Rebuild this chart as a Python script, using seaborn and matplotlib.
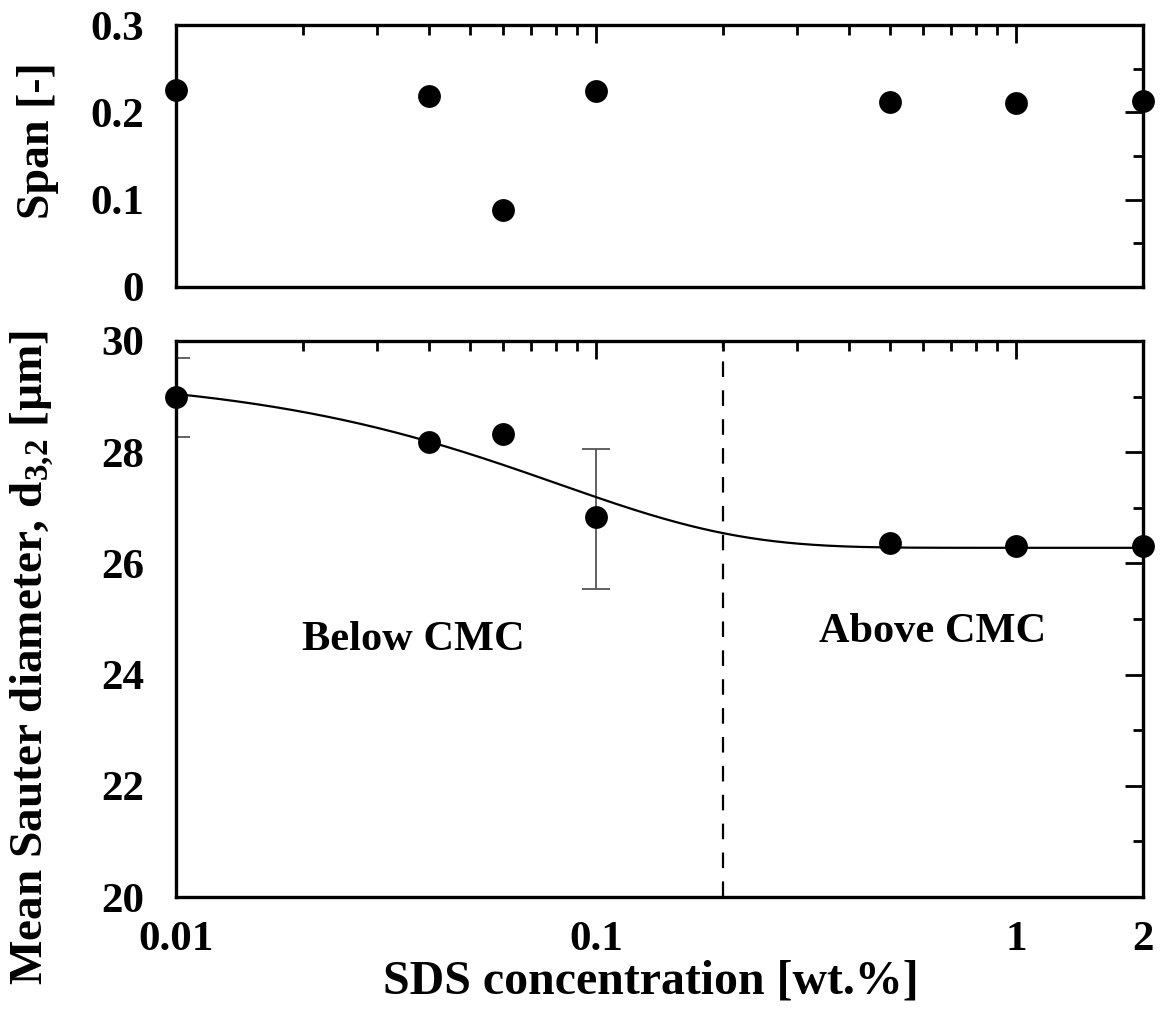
import numpy as np
import pandas as pd
import matplotlib
matplotlib.use("Agg")
import matplotlib.pyplot as plt
import seaborn as sns
from matplotlib.ticker import LogLocator, MultipleLocator, FixedLocator, FixedFormatter, NullFormatter, FuncFormatter

# ---- data ----
conc = [0.01, 0.04, 0.06, 0.1, 0.5, 1.0, 2.0]
span = [0.226, 0.219, 0.088, 0.224, 0.212, 0.211, 0.213]
d32 = [29.0, 28.18, 28.33, 26.83, 26.37, 26.32, 26.32]
err_x = [0.01, 0.1]
err_y = [28.98, 26.80]
err_val = [0.71, 1.26]
# exponential-decay fit parameters: d = base + amp * exp(-x / x0)
fit_base, fit_amp, fit_x0 = 26.28, 3.13, 0.081
cmc = 0.2
xtick_vals = [0.01, 0.1, 1, 2]
xtick_labels = ["0.01", "0.1", "1", "2"]

sns.set_theme(style="white")
plt.rcParams["font.family"] = ["Liberation Serif", "DejaVu Serif"]
plt.rcParams["font.weight"] = "bold"
plt.rcParams["text.color"] = "black"
plt.rcParams["axes.labelcolor"] = "black"
plt.rcParams["xtick.color"] = "black"
plt.rcParams["ytick.color"] = "black"
plt.rcParams["mathtext.fontset"] = "custom"
plt.rcParams["mathtext.rm"] = "Liberation Serif:bold"
plt.rcParams["mathtext.it"] = "Liberation Serif:bold"
plt.rcParams["mathtext.bf"] = "Liberation Serif:bold"

fig = plt.figure(figsize=(11.61, 10.13), dpi=100)
ax1 = fig.add_axes([0.1516, 0.7167, 0.8329, 0.2586])
ax2 = fig.add_axes([0.1516, 0.1145, 0.8329, 0.5489])

df = pd.DataFrame({"conc": conc, "span": span, "d32": d32})
xf = np.logspace(np.log10(0.01), np.log10(2), 400)
fit_df = pd.DataFrame({"x": xf, "y": fit_base + fit_amp * np.exp(-xf / fit_x0)})

ms = 270
# top panel
sns.scatterplot(data=df, x="conc", y="span", ax=ax1, color="black", s=ms,
                edgecolor="black", linewidth=0, clip_on=False, zorder=5, legend=False)
# bottom panel
sns.lineplot(data=fit_df, x="x", y="y", ax=ax2, color="black", linewidth=1.6, zorder=3)
ax2.errorbar(err_x, err_y, yerr=err_val, fmt="none", ecolor="#555555",
             elinewidth=1.3, capsize=10, capthick=1.3, zorder=2)
sns.scatterplot(data=df, x="conc", y="d32", ax=ax2, color="black", s=ms,
                edgecolor="black", linewidth=0, clip_on=False, zorder=5, legend=False)
ax2.axvline(cmc, color="black", linewidth=1.6, linestyle=(0, (7, 6)), zorder=1)

ax2.text(0.0368, 24.62, "Below CMC", fontsize=30.5, fontweight="bold", ha="center", va="center", color="black")
ax2.text(0.63, 24.77, "Above CMC", fontsize=30.5, fontweight="bold", ha="center", va="center", color="black")

for ax in (ax1, ax2):
    ax.set_xscale("log")
    ax.set_xlim(0.01, 2)
    ax.xaxis.set_major_locator(FixedLocator(xtick_vals))
    ax.xaxis.set_minor_locator(LogLocator(base=10, subs=np.arange(2, 10), numticks=20))
    ax.xaxis.set_minor_formatter(NullFormatter())
    ax.tick_params(which="both", direction="in", top=True, right=True,
                   colors="black", width=2, labelsize=31)
    ax.tick_params(axis="x", pad=17)
    ax.tick_params(axis="y", pad=23)
    ax.tick_params(which="major", length=13)
    ax.tick_params(which="minor", length=7)
    for sp in ax.spines.values():
        sp.set_linewidth(2.4)
        sp.set_color("black")

ax1.set_ylim(0, 0.3)
ax1.yaxis.set_major_locator(MultipleLocator(0.1))
ax1.yaxis.set_minor_locator(MultipleLocator(0.05))
ax1.yaxis.set_major_formatter(FuncFormatter(lambda v, p: "0" if abs(v) < 1e-9 else f"{v:.1f}"))
ax1.tick_params(axis="x", labelbottom=False)
ax1.set_xlabel("")
ax1.set_ylabel("Span [-]", fontsize=33, fontweight="bold")
ax1.yaxis.set_label_coords(-0.121, 0.56)

ax2.set_ylim(20, 30)
ax2.yaxis.set_major_locator(MultipleLocator(2))
ax2.yaxis.set_minor_locator(MultipleLocator(1))
ax2.xaxis.set_major_formatter(FixedFormatter(xtick_labels))
ax2.set_xlabel("SDS concentration [wt.%]", fontsize=34.5, fontweight="bold")
ax2.xaxis.set_label_coords(0.491, -0.113)
ax2.set_ylabel(r"Mean Sauter diameter, d$_{3{,}2}$ [µm]", fontsize=34, fontweight="bold")
ax2.yaxis.set_label_coords(-0.124, 0.43)

for ax in (ax1, ax2):
    for lab in ax.get_xticklabels() + ax.get_yticklabels():
        lab.set_fontweight("bold")
        lab.set_fontsize(31)
        lab.set_color("black")

fig.savefig("out.png", dpi=100)
